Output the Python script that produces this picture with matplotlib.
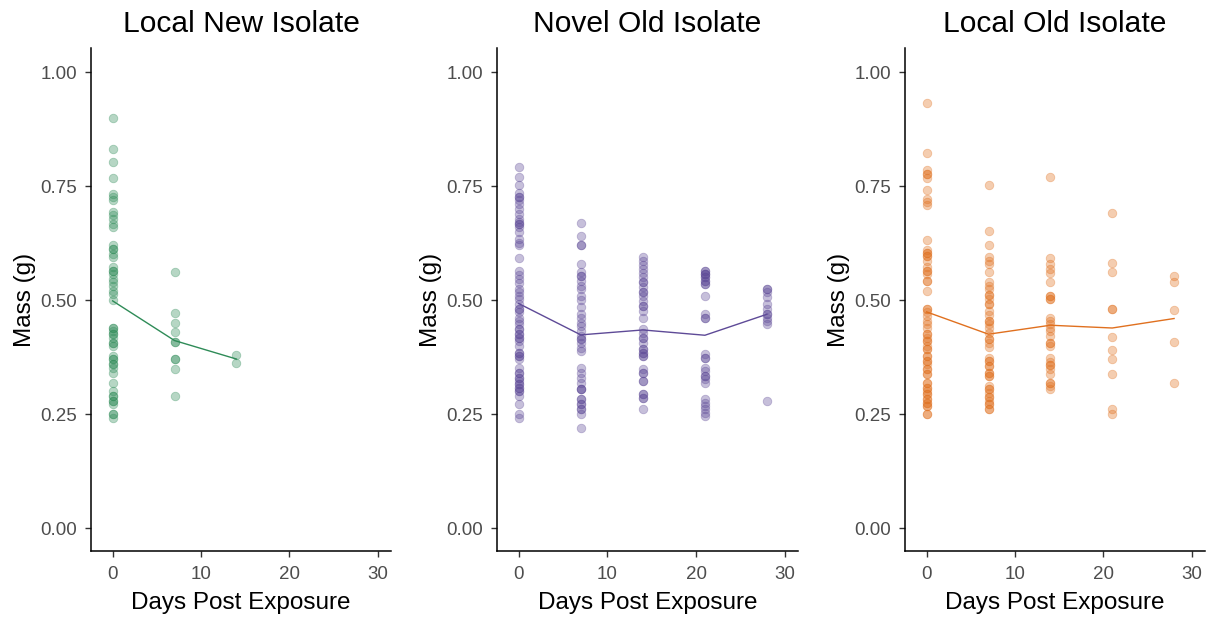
import numpy as np
import matplotlib
matplotlib.use("Agg")
import matplotlib.pyplot as plt

plt.rcParams['font.family'] = ['Liberation Sans', 'DejaVu Sans']

# Mass (g) per sampling day for each isolate group
titles = ["Local New Isolate", "Novel Old Isolate", "Local Old Isolate"]
colors = ["#2E8B57", "#5E4A97", "#E0701F"]

local_new = {
    0: [0.900, 0.832, 0.803, 0.769, 0.733, 0.726, 0.720, 0.693, 0.686, 0.677,
        0.667, 0.660, 0.620, 0.612, 0.612, 0.601, 0.594, 0.572, 0.565, 0.565,
        0.558, 0.547, 0.539, 0.532, 0.521, 0.514, 0.500, 0.440, 0.440, 0.433,
        0.426, 0.426, 0.417, 0.407, 0.407, 0.400, 0.378, 0.371, 0.371, 0.360,
        0.360, 0.352, 0.341, 0.319, 0.301, 0.290, 0.290, 0.279, 0.279, 0.272,
        0.250, 0.250, 0.242],
    7: [0.561, 0.472, 0.450, 0.431, 0.409, 0.409, 0.372, 0.372, 0.349, 0.290],
    14: [0.380, 0.362],
}

novel_old = {
    0: [0.793, 0.771, 0.753, 0.735, 0.726, 0.726, 0.720, 0.711, 0.700, 0.689,
        0.678, 0.671, 0.666, 0.666, 0.660, 0.649, 0.634, 0.625, 0.620, 0.592,
        0.565, 0.556, 0.547, 0.537, 0.525, 0.517, 0.510, 0.503, 0.492, 0.481,
        0.481, 0.473, 0.462, 0.455, 0.448, 0.437, 0.437, 0.426, 0.426, 0.418,
        0.418, 0.411, 0.400, 0.385, 0.385, 0.378, 0.378, 0.371, 0.352, 0.341,
        0.341, 0.330, 0.330, 0.323, 0.316, 0.316, 0.308, 0.308, 0.301, 0.301,
        0.290, 0.272, 0.250, 0.242],
    7: [0.669, 0.640, 0.621, 0.621, 0.580, 0.561, 0.554, 0.554, 0.543, 0.532,
        0.525, 0.510, 0.500, 0.484, 0.470, 0.462, 0.451, 0.444, 0.433, 0.422,
        0.415, 0.415, 0.407, 0.396, 0.389, 0.352, 0.341, 0.330, 0.319, 0.305,
        0.305, 0.305, 0.283, 0.283, 0.272, 0.272, 0.261, 0.261, 0.250, 0.220],
    14: [0.594, 0.587, 0.578, 0.569, 0.559, 0.550, 0.539, 0.539, 0.528, 0.517,
         0.517, 0.510, 0.499, 0.488, 0.488, 0.477, 0.462, 0.437, 0.429, 0.418,
         0.418, 0.407, 0.393, 0.393, 0.385, 0.385, 0.378, 0.378, 0.349, 0.341,
         0.341, 0.323, 0.323, 0.294, 0.294, 0.286, 0.286, 0.261],
    21: [0.565, 0.565, 0.558, 0.558, 0.558, 0.550, 0.550, 0.543, 0.543, 0.536,
         0.536, 0.510, 0.470, 0.462, 0.462, 0.382, 0.374, 0.374, 0.352, 0.345,
         0.334, 0.334, 0.327, 0.319, 0.283, 0.275, 0.268, 0.261, 0.253, 0.246],
    28: [0.525, 0.525, 0.517, 0.506, 0.492, 0.481, 0.470, 0.470, 0.462, 0.455,
         0.448, 0.279],
}

local_old = {
    0: [0.933, 0.823, 0.785, 0.777, 0.777, 0.769, 0.741, 0.722, 0.715, 0.708,
        0.632, 0.610, 0.603, 0.603, 0.596, 0.596, 0.587, 0.572, 0.565, 0.565,
        0.558, 0.541, 0.541, 0.521, 0.481, 0.481, 0.473, 0.466, 0.455, 0.448,
        0.439, 0.426, 0.426, 0.418, 0.411, 0.411, 0.400, 0.393, 0.393, 0.378,
        0.378, 0.367, 0.367, 0.360, 0.349, 0.349, 0.338, 0.338, 0.319, 0.319,
        0.308, 0.308, 0.301, 0.294, 0.294, 0.283, 0.283, 0.275, 0.275, 0.268,
        0.268, 0.250, 0.250],
    7: [0.752, 0.651, 0.621, 0.594, 0.587, 0.580, 0.561, 0.539, 0.532, 0.525,
        0.512, 0.512, 0.503, 0.492, 0.492, 0.477, 0.468, 0.455, 0.455, 0.448,
        0.439, 0.429, 0.415, 0.415, 0.407, 0.398, 0.374, 0.367, 0.367, 0.356,
        0.356, 0.341, 0.341, 0.334, 0.334, 0.312, 0.305, 0.305, 0.297, 0.288,
        0.288, 0.279, 0.272, 0.272, 0.261, 0.261],
    14: [0.770, 0.592, 0.580, 0.569, 0.559, 0.539, 0.510, 0.510, 0.503, 0.503,
         0.462, 0.455, 0.448, 0.439, 0.433, 0.422, 0.407, 0.407, 0.400, 0.374,
         0.365, 0.358, 0.358, 0.349, 0.339, 0.319, 0.319, 0.312, 0.306],
    21: [0.692, 0.581, 0.561, 0.481, 0.481, 0.420, 0.391, 0.372, 0.338, 0.262,
         0.250],
    28: [0.552, 0.540, 0.479, 0.409, 0.319],
}

groups = [local_new, novel_old, local_old]

W, H = 1214, 620
fig = plt.figure(figsize=(W / 100, H / 100), dpi=100)

# panel boxes in pixels: (left, right, top, bottom)
boxes = [(91, 391, 48, 551), (497, 798, 48, 551), (905, 1205, 48, 551)]

tick_gray = "#4D4D4D"
for data, title, col, (l, r, t, b) in zip(groups, titles, colors, boxes):
    ax = fig.add_axes([l / W, 1 - b / H, (r - l) / W, (b - t) / H])
    days = sorted(data)
    for d in days:
        vals = np.array(data[d])
        ax.scatter(np.full(vals.size, d), vals, s=38, color=col, alpha=0.35,
                   edgecolors=col, linewidths=0.6, zorder=2)
    means = [np.mean(data[d]) for d in days]
    ax.plot(days, means, color=col, lw=1.0, zorder=3)

    ax.set_xlim(-2.45, 31.5)
    ax.set_ylim(-0.05, 1.053)
    ax.set_xticks([0, 10, 20, 30])
    ax.set_yticks([0.0, 0.25, 0.5, 0.75, 1.0])
    ax.set_yticklabels(["0.00", "0.25", "0.50", "0.75", "1.00"])
    for s in ("top", "right"):
        ax.spines[s].set_visible(False)
    for s in ("left", "bottom"):
        ax.spines[s].set_linewidth(1.1)
        ax.spines[s].set_color("black")
    ax.tick_params(axis="both", length=4.5, width=1.0, color="#333333",
                   labelsize=13.5, labelcolor=tick_gray)
    ax.tick_params(axis="x", pad=6)
    ax.tick_params(axis="y", pad=5.5)
    ax.set_xlabel("Days Post Exposure", fontsize=17.5, color="black", labelpad=6.5)
    ax.set_ylabel("Mass (g)", fontsize=17.5, color="black", labelpad=3.5)
    ax.set_title(title, fontsize=21.6, color="black", pad=11.5)

fig.savefig("out.png", dpi=100)
